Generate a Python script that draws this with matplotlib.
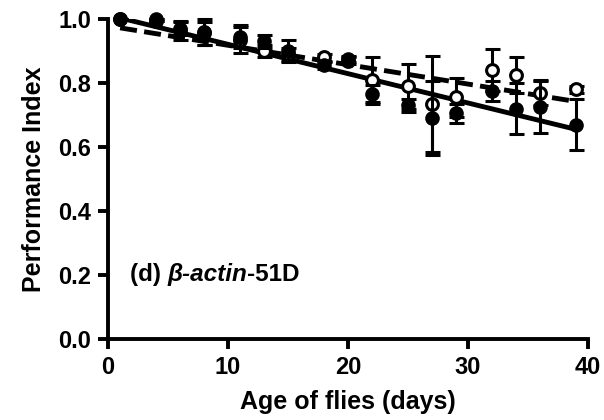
import matplotlib
matplotlib.use("Agg")
import matplotlib.pyplot as plt
from matplotlib.offsetbox import TextArea, HPacker, AnchoredOffsetbox

plt.rcParams['font.family'] = ['Liberation Sans', 'DejaVu Sans']
plt.rcParams['font.weight'] = 'bold'

# age of flies (days)
days = [1, 4, 6, 8, 11, 13, 15, 18, 20, 22, 25, 27, 29, 32, 34, 36, 39]

# filled circles (solid fit)
filled_pi = [1.0, 1.0, 0.965, 0.955, 0.945, 0.93, 0.90, 0.855, 0.875, 0.765,
             0.73, 0.69, 0.705, 0.775, 0.72, 0.725, 0.67]
filled_err = [0.0, 0.0, 0.03, 0.035, 0.035, 0.02, 0.035, 0.01, 0.01, 0.03,
              0.02, 0.115, 0.03, 0.03, 0.08, 0.08, 0.08]

# open circles (dashed fit)
open_pi = [1.0, 0.995, 0.97, 0.96, 0.935, 0.90, 0.89, 0.88, 0.87, 0.81,
           0.79, 0.735, 0.755, 0.84, 0.825, 0.77, 0.78]
open_err = [0.0, 0.0, 0.02, 0.04, 0.04, 0.02, 0.02, 0.01, 0.01, 0.07,
            0.07, 0.15, 0.06, 0.065, 0.055, 0.04, 0.01]

# linear fits, end values at first and last day
fit_days = [1, 39]
filled_fit = [1.003, 0.655]
open_fit = [0.972, 0.742]

fig = plt.figure(figsize=(6.04, 4.2), dpi=100)
ax = fig.add_axes([0.179, 0.193, 0.794, 0.762])

ax.plot(fit_days, filled_fit, color='black', lw=3.5, solid_capstyle='butt', zorder=2)
ax.plot(fit_days, open_fit, color='black', lw=3.5, linestyle=(0, (3.5, 1.5)),
        dash_capstyle='butt', zorder=2)

ax.errorbar(days, open_pi, yerr=open_err, fmt='o', color='black', mfc='white',
            mec='black', mew=2.2, ms=8.5, elinewidth=2.2, capsize=5.4, capthick=2.2,
            clip_on=False, zorder=3)
ax.errorbar(days, filled_pi, yerr=filled_err, fmt='o', color='black', ms=9.5,
            elinewidth=2.2, capsize=5.4, capthick=2.2, clip_on=False, zorder=4)

ax.set_xlim(0, 40)
ax.set_ylim(0, 1.0)
ax.set_xticks([0, 10, 20, 30, 40])
ax.set_yticks([0.0, 0.2, 0.4, 0.6, 0.8, 1.0])
ax.set_yticklabels(['0.0', '0.2', '0.4', '0.6', '0.8', '1.0'])

for side in ['top', 'right']:
    ax.spines[side].set_visible(False)
for side in ['left', 'bottom']:
    ax.spines[side].set_linewidth(2.8)
ax.tick_params(width=2.8, length=7, labelsize=17, pad=5)
for lbl in ax.get_xticklabels() + ax.get_yticklabels():
    lbl.set_fontweight('bold')

ax.set_xlabel('Age of flies (days)', fontsize=18, fontweight='bold', labelpad=8)
ax.set_ylabel('Performance Index', fontsize=18, fontweight='bold', labelpad=9)

# panel label with italic gene name
bold = dict(fontsize=17.5, fontweight='bold', color='black')
boldit = dict(fontsize=17.5, fontweight='bold', fontstyle='italic', color='black')
label = HPacker(children=[TextArea('(d) ', textprops=bold),
                          TextArea('\u03b2-actin', textprops=boldit),
                          TextArea('-51D', textprops=bold)],
                align='baseline', pad=0, sep=0)
box = AnchoredOffsetbox(loc='lower left', child=label, pad=0, frameon=False,
                        bbox_to_anchor=(0.045, 0.165), bbox_transform=ax.transAxes,
                        borderpad=0)
ax.add_artist(box)

fig.savefig('out.png', dpi=100)
